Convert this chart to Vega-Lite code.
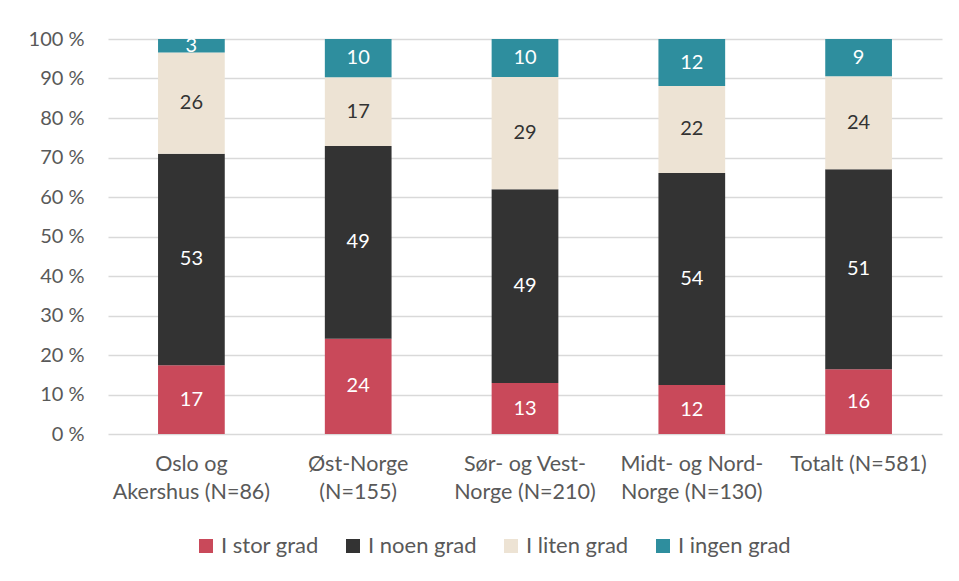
{
  "$schema": "https://vega.github.io/schema/vega-lite/v6.json",
  "width": 834,
  "height": 395,
  "autosize": {"type": "none"},
  "padding": {"left": 108, "top": 39, "right": 17, "bottom": 147},
  "background": "white",
  "config": {
    "font": "Lato",
    "view": {"stroke": null},
    "axis": {"labelFont": "Lato", "labelFontSize": 19, "labelColor": "#595959"},
    "legend": {"labelFont": "Lato", "labelFontSize": 22, "labelColor": "#595959"}
  },
  "data": {
    "values": [
      {"region": "Oslo og|Akershus (N=86)", "category": "I stor grad", "k": 1, "value": 17.4},
      {"region": "Oslo og|Akershus (N=86)", "category": "I noen grad", "k": 2, "value": 53.4},
      {"region": "Oslo og|Akershus (N=86)", "category": "I liten grad", "k": 3, "value": 25.6},
      {"region": "Oslo og|Akershus (N=86)", "category": "I ingen grad", "k": 4, "value": 3.4},
      {"region": "Øst-Norge|(N=155)", "category": "I stor grad", "k": 1, "value": 24.1},
      {"region": "Øst-Norge|(N=155)", "category": "I noen grad", "k": 2, "value": 48.8},
      {"region": "Øst-Norge|(N=155)", "category": "I liten grad", "k": 3, "value": 17.4},
      {"region": "Øst-Norge|(N=155)", "category": "I ingen grad", "k": 4, "value": 9.7},
      {"region": "Sør- og Vest-|Norge (N=210)", "category": "I stor grad", "k": 1, "value": 12.9},
      {"region": "Sør- og Vest-|Norge (N=210)", "category": "I noen grad", "k": 2, "value": 49.1},
      {"region": "Sør- og Vest-|Norge (N=210)", "category": "I liten grad", "k": 3, "value": 28.5},
      {"region": "Sør- og Vest-|Norge (N=210)", "category": "I ingen grad", "k": 4, "value": 9.6},
      {"region": "Midt- og Nord-|Norge (N=130)", "category": "I stor grad", "k": 1, "value": 12.4},
      {"region": "Midt- og Nord-|Norge (N=130)", "category": "I noen grad", "k": 2, "value": 53.7},
      {"region": "Midt- og Nord-|Norge (N=130)", "category": "I liten grad", "k": 3, "value": 22.0},
      {"region": "Midt- og Nord-|Norge (N=130)", "category": "I ingen grad", "k": 4, "value": 11.9},
      {"region": "Totalt (N=581)", "category": "I stor grad", "k": 1, "value": 16.4},
      {"region": "Totalt (N=581)", "category": "I noen grad", "k": 2, "value": 50.6},
      {"region": "Totalt (N=581)", "category": "I liten grad", "k": 3, "value": 23.6},
      {"region": "Totalt (N=581)", "category": "I ingen grad", "k": 4, "value": 9.4}
    ]
  },
  "transform": [
    {"stack": "value", "groupby": ["region"], "sort": [{"field": "k", "order": "ascending"}], "offset": "normalize", "as": ["y0", "y1"]},
    {"calculate": "(datum.y0 + datum.y1) / 2", "as": "ymid"}
  ],
  "encoding": {
    "x": {
      "field": "region", "type": "nominal", "sort": null,
      "scale": {"paddingInner": 0.6, "paddingOuter": 0.3},
      "axis": {"title": null, "labelAngle": 0, "labelExpr": "split(datum.label, '|')", "labelLineHeight": 28, "labelPadding": 19, "domain": false, "ticks": false, "labelFontSize": 21.5}
    }
  },
  "layer": [
    {
      "mark": {"type": "bar"},
      "encoding": {
        "y": {"field": "y0", "type": "quantitative",
          "scale": {"domain": [0, 1]},
          "axis": {"title": null, "format": ".0%", "labelExpr": "replace(datum.label, '%', ' %')", "values": [0,0.1,0.2,0.3,0.4,0.5,0.6,0.7,0.8,0.9,1], "labelOverlap": false, "grid": true, "gridColor": "#d9d9d9", "gridWidth": 1.5, "domain": false, "ticks": false, "labelPadding": 24, "labelFontSize": 20}},
        "y2": {"field": "y1"},
        "color": {
          "field": "category", "type": "nominal",
          "scale": {"domain": ["I stor grad", "I noen grad", "I liten grad", "I ingen grad"], "range": ["#C9495A", "#333333", "#EDE3D4", "#2E8E9E"]},
          "legend": {"title": null, "orient": "none", "direction": "horizontal", "legendX": 87, "legendY": 496, "symbolType": "square", "symbolSize": 196, "symbolStrokeWidth": 0, "columnPadding": 23, "labelOffset": 4}
        }
      }
    },
    {
      "mark": {"type": "text", "fontSize": 20, "font": "Lato", "baseline": "middle"},
      "encoding": {
        "y": {"field": "ymid", "type": "quantitative",
          "axis": {"title": null, "format": ".0%", "labelExpr": "replace(datum.label, '%', ' %')", "values": [0,0.1,0.2,0.3,0.4,0.5,0.6,0.7,0.8,0.9,1], "labelOverlap": false, "grid": true, "gridColor": "#d9d9d9", "gridWidth": 1.5, "domain": false, "ticks": false, "labelPadding": 24, "labelFontSize": 20}},
        "text": {"field": "value", "type": "quantitative", "format": ".0f"},
        "color": {
          "condition": {"test": "datum.category === 'I liten grad'", "value": "#333333"},
          "value": "white"
        }
      }
    }
  ]
}
